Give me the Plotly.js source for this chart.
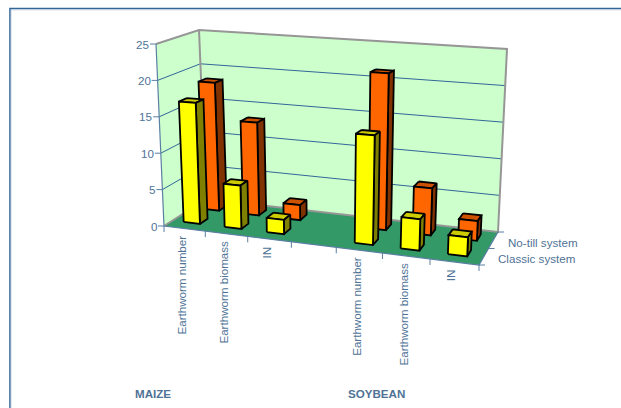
<!DOCTYPE html>
<html>
<head>
<meta charset="utf-8">
<script src="https://cdn.plot.ly/plotly-3.0.1.min.js"></script>
<style>html,body{margin:0;padding:0;background:#fff}#chart{width:621px;height:408px}</style>
</head>
<body>
<div id="chart"></div>
<script>
// Earthworm and nitrogen measurements under two tillage systems
const categories = ["Earthworm number", "Earthworm biomass", "IN", "", "Earthworm number", "Earthworm biomass", "IN"];
const classicSystem = [16.7, 5.9, 1.9, null, 14.2, 4.0, 2.4];
const noTillSystem = [18.3, 13.1, 2.1, null, 21.3, 6.3, 2.6];
const seriesNames = ["Classic system", "No-till system"];
const valueTicks = [0, 5, 10, 15, 20, 25];
const groupNames = ["MAIZE", "SOYBEAN"];

// Oblique box projection: slot index, depth 0..1 and value to page pixels
const FLOOR = {fl: [164, 226], fr: [479, 265], bl: [206, 199], br: [498, 232]};
const CEIL = {fl: [156, 44], fr: [488, 60], bl: [199, 30], br: [507, 49]};
const VMAX = 25, SLOTS = categories.length, TAPER = 0.905;
const lerp = (a, b, t) => a + (b - a) * t;
function corner(box, u, d) {
  const fx = lerp(box.fl[0], box.fr[0], u), fy = lerp(box.fl[1], box.fr[1], u);
  const bx = lerp(box.bl[0], box.br[0], u), by = lerp(box.bl[1], box.br[1], u);
  return [lerp(fx, bx, d), lerp(fy, by, d)];
}
function project(i, d, v) {
  const t = i / SLOTS;
  const u = t * TAPER / (1 + (TAPER - 1) * t);
  const lo = corner(FLOOR, u, d), hi = corner(CEIL, u, d), k = v / VMAX;
  return [lerp(lo[0], hi[0], k), lerp(lo[1], hi[1], k)];
}

const traces = [];
function poly(points, fill, line, width) {
  const xs = points.map(p => p[0]), ys = points.map(p => p[1]);
  xs.push(xs[0]); ys.push(ys[0]);
  traces.push({x: xs, y: ys, type: "scatter", mode: "lines", fill: "toself", fillcolor: fill,
    line: {color: line, width: width, join: "miter"}, hoverinfo: "skip", showlegend: false});
}
function path(points, color, width) {
  traces.push({x: points.map(p => p[0]), y: points.map(p => p[1]), type: "scatter", mode: "lines",
    line: {color: color, width: width}, hoverinfo: "skip", showlegend: false});
}

const WALL = "#CCFFCC", FLOORFILL = "#339966", EDGE = "#969696", INK = "#336699", AXIS = "#5A7FA3", TEXT = "#4F7396";

// Walls and floor
poly([project(0, 0, 0), project(0, 1, 0), project(0, 1, VMAX), project(0, 0, VMAX)], WALL, EDGE, 0);
poly([project(0, 1, 0), project(SLOTS, 1, 0), project(SLOTS, 1, VMAX), project(0, 1, VMAX)], WALL, EDGE, 0);
poly([project(0, 0, 0), project(SLOTS, 0, 0), project(SLOTS, 1, 0), project(0, 1, 0)], FLOORFILL, FLOORFILL, 0);

// Gridlines across both walls
valueTicks.slice(1, -1).forEach(v => {
  path([project(0, 0, v), project(0, 1, v), project(SLOTS, 1, v)], INK, 1);
});

// Wall outlines
path([project(0, 0, VMAX), project(0, 1, VMAX), project(SLOTS, 1, VMAX), project(SLOTS, 1, 0), project(0, 1, 0)], EDGE, 2);
path([project(0, 1, VMAX), project(0, 1, 0), project(0, 0, 0)], EDGE, 2);

// Axis lines and tick marks
path([project(0, 0, VMAX), project(0, 0, 0), project(SLOTS, 0, 0), project(SLOTS, 1, 0)], AXIS, 1.2);
valueTicks.forEach(v => {
  const p = project(0, 0, v);
  path([[p[0] - 6, p[1]], p], AXIS, 1);
});
for (let i = 0; i <= SLOTS; i++) {
  const p = project(i, 0, 0);
  path([p, [p[0], p[1] + 6]], AXIS, 1);
}
[0, 0.5, 1].forEach(d => {
  const p = project(SLOTS, d, 0);
  path([p, [p[0] + 6, p[1]]], AXIS, 1);
});

// One box per value, back series first so the front series overlaps it
const BAR_LO = 0.28, BAR_HI = 0.68;
function bar(slot, d0, d1, value, front, side, top) {
  if (value === null) return;
  const a = slot + BAR_LO, b = slot + BAR_HI;
  poly([project(a, d1, value), project(b, d1, value), project(b, d0, value), project(a, d0, value)], top, "#000", 1.8);
  poly([project(b, d0, 0), project(b, d1, 0), project(b, d1, value), project(b, d0, value)], side, "#000", 1.8);
  poly([project(a, d0, 0), project(b, d0, 0), project(b, d0, value), project(a, d0, value)], front, "#000", 1.8);
}
for (let i = SLOTS - 1; i >= 0; i--) bar(i, 0.68, 0.87, noTillSystem[i], "#FF6600", "#803300", "#CC5200");
for (let i = SLOTS - 1; i >= 0; i--) bar(i, 0.2, 0.39, classicSystem[i], "#FFFF00", "#808000", "#CCCC00");

// Page frame along the top and left edge
path([[10, 408], [10, 8.5], [621, 8.5]], "#336699", 1.6);
path([[11, 409], [11, 9.8], [621, 9.8]], "#B4C8DC", 0.8);

const FONT = "Liberation Sans, Arial, sans-serif";
const SIZE = 11.6;
const annotations = [];
function label(x, y, text, opts) {
  annotations.push(Object.assign({x: x, y: y, xref: "x", yref: "y", text: text, showarrow: false,
    font: {family: FONT, size: SIZE, color: TEXT}, borderpad: 0, borderwidth: 0}, opts));
}
valueTicks.forEach(v => {
  const p = project(0, 0, v);
  label(p[0] - 7, p[1], String(v), {xanchor: "right", yanchor: "middle"});
});
categories.forEach((c, i) => {
  if (!c) return;
  const p = project(i + 0.5, 0, 0);
  label(p[0] - 3, p[1] + 7, c, {textangle: -90, xanchor: "center", yanchor: "top"});
});
label(498, 258.5, seriesNames[0], {xanchor: "left", yanchor: "middle"});
label(508, 242, seriesNames[1], {xanchor: "left", yanchor: "middle"});
label(152.5, 393, groupNames[0], {xanchor: "center", yanchor: "middle", font: {family: FONT, size: SIZE, color: TEXT, weight: 700}});
label(376, 393, groupNames[1], {xanchor: "center", yanchor: "middle", font: {family: FONT, size: SIZE, color: TEXT, weight: 700}});

Plotly.newPlot("chart", traces, {
  width: 621, height: 408, margin: {l: 0, r: 0, t: 0, b: 0},
  paper_bgcolor: "#fff", plot_bgcolor: "#fff", showlegend: false,
  xaxis: {range: [0, 621], visible: false, fixedrange: true},
  yaxis: {range: [408, 0], visible: false, fixedrange: true},
  annotations: annotations
}, {displayModeBar: false, staticPlot: true});
</script>
</body>
</html>
